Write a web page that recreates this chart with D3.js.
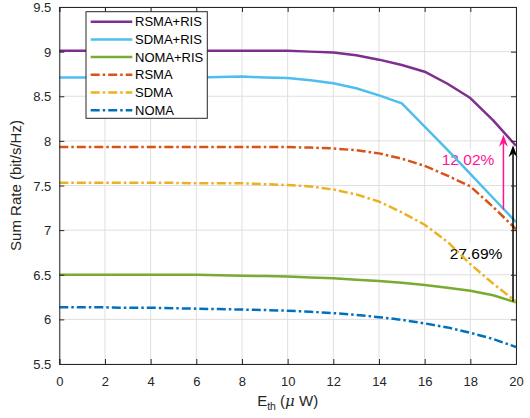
<!DOCTYPE html>
<html><head><meta charset="utf-8">
<script src="https://cdn.jsdelivr.net/npm/d3@7"></script>
<style>body{margin:0;background:#fff}svg{display:block;font-family:"Liberation Sans",Arial,sans-serif}</style>
</head><body>
<svg id="c" width="530" height="418"></svg>
<script>
const xVals = d3.range(0, 21);
const xTicks = [0,2,4,6,8,10,12,14,16,18,20];
const yTicks = [5.5,6,6.5,7,7.5,8,8.5,9,9.5];
const seriesNames = ["RSMA+RIS","SDMA+RIS","NOMA+RIS","RSMA","SDMA","NOMA"];
const rsmaRis = [9.01,9.01,9.01,9.01,9.01,9.01,9.01,9.01,9.01,9.01,9.01,9.0,8.99,8.96,8.91,8.85,8.775,8.64,8.48,8.23,7.945];
const sdmaRis = [8.71,8.71,8.71,8.71,8.71,8.71,8.71,8.715,8.72,8.71,8.705,8.68,8.645,8.59,8.51,8.42,8.16,7.9,7.63,7.36,7.09];
const nomaRis = [6.5,6.5,6.5,6.5,6.5,6.5,6.5,6.495,6.49,6.485,6.48,6.47,6.46,6.445,6.43,6.41,6.385,6.355,6.32,6.27,6.19];
const rsma = [7.93,7.93,7.93,7.93,7.93,7.93,7.93,7.93,7.93,7.93,7.93,7.925,7.915,7.895,7.86,7.8,7.72,7.61,7.49,7.26,7.01];
const sdma = [7.53,7.53,7.53,7.53,7.53,7.53,7.525,7.525,7.525,7.515,7.505,7.49,7.455,7.4,7.32,7.2,7.06,6.87,6.62,6.4,6.2];
const noma = [6.135,6.135,6.135,6.13,6.13,6.125,6.12,6.115,6.11,6.105,6.097,6.085,6.07,6.05,6.025,5.995,5.955,5.91,5.85,5.78,5.69];
const seriesValues = [rsmaRis, sdmaRis, nomaRis, rsma, sdma, noma];
const seriesColors = ["#7E2F8E","#4DBEEE","#77AC30","#D95319","#EDB120","#0072BD"];
const seriesDash = [null,null,null,"9,3,2.5,3","9,3,2.5,3","9,3,2.5,3"];
// annotations: [x, yFrom, yTo]
const pinkArrow = [19.45, 7.23, 8.07];
const blackArrow = [19.87, 6.2, 7.95];
const pinkLabel = {text:"12.02%", x:17.9, y:7.79};
const blackLabel = {text:"27.69%", x:18.25, y:6.74};

const svg = d3.select("#c");
const L=59.3, R=516, T=7, B=364;
const x = d3.scaleLinear().domain([0,20]).range([L,R]);
const y = d3.scaleLinear().domain([5.5,9.5]).range([B,T]);
const axisCol = "#262626";

// grid
const g = svg.append("g");
g.selectAll(".gx").data(xTicks).enter().append("line")
 .attr("x1",d=>x(d)).attr("x2",d=>x(d)).attr("y1",T).attr("y2",B)
 .attr("stroke","#dfdfdf").attr("stroke-width",1);
g.selectAll(".gy").data(yTicks).enter().append("line")
 .attr("y1",d=>y(d)).attr("y2",d=>y(d)).attr("x1",L).attr("x2",R)
 .attr("stroke","#dfdfdf").attr("stroke-width",1);

// label backgrounds + labels
function label(lb, color){
  const t = svg.append("text").attr("x",x(lb.x)).attr("y",y(lb.y))
   .attr("text-anchor","middle").attr("dominant-baseline","central")
   .attr("font-size",15.5).attr("fill",color).text(lb.text);
  const bb = t.node().getBBox();
  svg.insert("rect", "text").attr("x",bb.x-3).attr("y",bb.y-2).attr("width",bb.width+6).attr("height",bb.height+4).attr("fill","#fff");
  return t;
}
label(pinkLabel,"#FF1493");
label(blackLabel,"#000");

// lines
const line = d3.line().x((d,i)=>x(xVals[i])).y(d=>y(d));
seriesValues.forEach((vals,k)=>{
  svg.append("path").datum(vals).attr("d",line).attr("fill","none")
   .attr("stroke",seriesColors[k]).attr("stroke-width",2.5)
   .attr("stroke-dasharray",seriesDash[k]).attr("stroke-linejoin","round");
});

// arrows
function arrow(a,color){
  const ax=x(a[0]), y0=y(a[1]), y1=y(a[2]);
  svg.append("line").attr("x1",ax).attr("x2",ax).attr("y1",y0).attr("y2",y1+8)
   .attr("stroke",color).attr("stroke-width",1.5);
  svg.append("path").attr("d",`M${ax},${y1} L${ax-4.5},${y1+12} L${ax},${y1+8} L${ax+4.5},${y1+12} Z`)
   .attr("fill",color);
}
arrow(pinkArrow,"#FF1493");
arrow(blackArrow,"#000");

// axes
const ax = svg.append("g").attr("transform",`translate(0,${B})`)
 .call(d3.axisBottom(x).tickValues(xTicks).tickSize(-5).tickPadding(10).tickFormat(d3.format("d")));
const axT = svg.append("g").attr("transform",`translate(0,${T})`)
 .call(d3.axisTop(x).tickValues(xTicks).tickSize(-5).tickFormat(""));
const ay = svg.append("g").attr("transform",`translate(${L},0)`)
 .call(d3.axisLeft(y).tickValues(yTicks).tickSize(-5).tickPadding(8).tickFormat(d=>d3.format("")(d)));
const ayR = svg.append("g").attr("transform",`translate(${R},0)`)
 .call(d3.axisRight(y).tickValues(yTicks).tickSize(-5).tickFormat(""));
[ax,axT,ay,ayR].forEach(a=>{
  a.select(".domain").attr("stroke",axisCol).attr("stroke-width",1);
  a.selectAll(".tick line").attr("stroke",axisCol);
  a.selectAll("text").attr("fill",axisCol).attr("font-size",13).attr("font-family","Liberation Sans, Arial, sans-serif");
});
ax.selectAll("text").attr("dy","0.9em");
ay.selectAll("text").attr("dy","0.35em");

// axis labels
svg.append("text").attr("transform",`translate(21,${(T+B)/2}) rotate(-90)`)
 .attr("text-anchor","middle").attr("font-size",15).attr("fill",axisCol)
 .text("Sum Rate (bit/s/Hz)");
const xl = svg.append("text").attr("x",(L+R)/2).attr("y",406).attr("text-anchor","middle")
 .attr("font-size",15).attr("fill",axisCol);
xl.append("tspan").text("E");
xl.append("tspan").attr("font-size",10.5).attr("dy",4).text("th");
xl.append("tspan").attr("dy",-4).text(" (");
xl.append("tspan").attr("font-style","italic").attr("font-family","DejaVu Serif, serif").text("μ");
xl.append("tspan").text(" W)");

// legend
const lg = svg.append("g");
lg.append("rect").attr("x",86).attr("y",11.7).attr("width",121.3).attr("height",106.6)
 .attr("fill","#fff").attr("stroke","#262626").attr("stroke-width",1);
seriesNames.forEach((n,k)=>{
  const yy = 21.7 + k*17.7;
  lg.append("line").attr("x1",90.7).attr("x2",132.3).attr("y1",yy).attr("y2",yy)
   .attr("stroke",seriesColors[k]).attr("stroke-width",2.5).attr("stroke-dasharray",seriesDash[k]);
  lg.append("text").attr("x",135).attr("y",yy).attr("dy","0.35em").attr("font-size",13)
   .attr("fill","#000").text(n);
});
</script>
</body></html>
